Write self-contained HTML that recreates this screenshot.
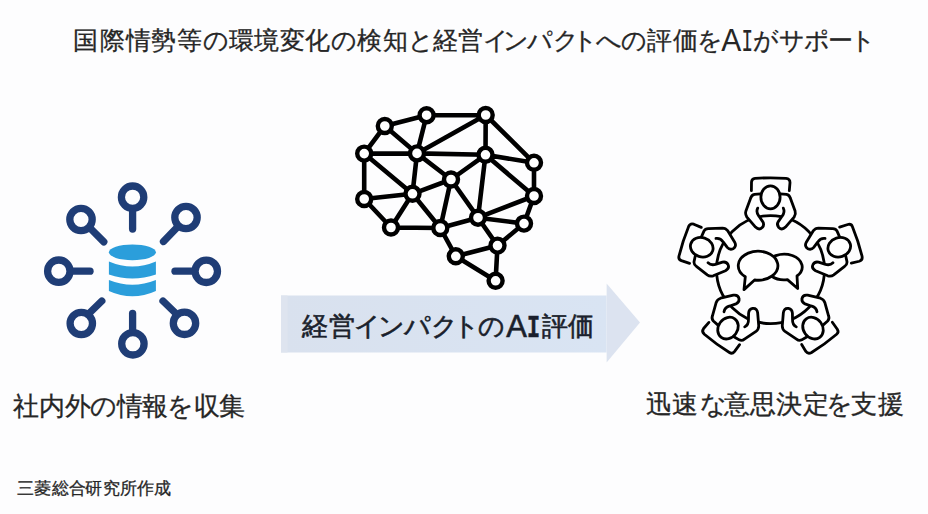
<!DOCTYPE html>
<html lang="ja">
<head>
<meta charset="utf-8">
<style>
html,body{margin:0;padding:0;}
body{width:928px;height:514px;overflow:hidden;background:#fdfdfe;position:relative;font-family:"Liberation Sans",sans-serif;color:#262626;}
.t{position:absolute;white-space:nowrap;line-height:1;}
#title{left:73px;top:29px;font-size:25px;letter-spacing:-0.2px;}
#cap1{left:13px;top:393px;font-size:26px;letter-spacing:-0.25px;}
#cap2{left:646px;top:392px;font-size:26px;letter-spacing:-0.2px;}
#credit{left:17px;top:480px;font-size:17px;letter-spacing:0.35px;}
#arrowtxt{left:301px;top:313px;font-size:26px;font-weight:normal;-webkit-text-stroke:0.6px #1a1f2c;color:#1a1f2c;}
svg{position:absolute;left:0;top:0;}
.g{position:absolute;left:0;top:0;width:928px;height:40px;line-height:1;white-space:nowrap;}
.g span{position:absolute;top:0;}
</style>
</head>
<body>
<svg width="928" height="514" viewBox="0 0 928 514">
  <!-- arrow -->
  <defs>
    <linearGradient id="ag" x1="0" x2="1" y1="0" y2="0">
      <stop offset="0" stop-color="#d9e1ee"/>
      <stop offset="1" stop-color="#d9e4f3"/>
    </linearGradient>
  </defs>
  <path d="M281 295.5 H606.6 V352.5 H281 Z" fill="url(#ag)"/>
  <path d="M281 295.5 H287.5 V352.5 H281 Z" fill="#dee4ef"/>
  <path d="M606.6 283.5 L640 322.5 L606.6 362.5 Z" fill="#dce3f0"/>
  <!-- left icon -->
  <g id="db" fill="none" stroke="#1f3d76" stroke-width="7.3" stroke-linecap="round">
    <circle cx="132.6" cy="197.2" r="11.2"/><path d="M132.6 212 V229"/>
    <circle cx="186" cy="217.5" r="11.2"/><path d="M177 227.5 L163.5 241.5"/>
    <circle cx="206.3" cy="271.3" r="11.2"/><path d="M193 271.2 H175"/>
    <circle cx="184.5" cy="323.3" r="11.2"/><path d="M175.4 313 L163 301"/>
    <circle cx="132.9" cy="343.8" r="11.2"/><path d="M132.6 330 V313.5"/>
    <circle cx="81.3" cy="323.5" r="11.2"/><path d="M89.5 313 L101.8 301"/>
    <circle cx="58.8" cy="271.2" r="11.2"/><path d="M71.5 271.2 H90"/>
    <circle cx="81" cy="219.5" r="11.2"/><path d="M91.5 229.5 L103.8 241.8"/>
  </g>
  <g fill="#2b9edb">
    <ellipse cx="132.4" cy="252.3" rx="23.5" ry="7.9"/>
    <path d="M108.9 261.6 Q132.4 271.6 155.9 261.6 V274.5 Q132.4 282.7 108.9 274.5 Z"/>
    <path d="M108.9 280 Q132.4 289.4 155.9 280 V290.9 Q132.4 301.7 108.9 290.9 Z"/>
  </g>
<g id="brain" stroke="#000" stroke-width="4.6" fill="none" stroke-linecap="round"><path d="M384.8 126.0L426.6 115.2M426.6 115.2L485.7 115.0M384.8 126.0L364.2 153.6M384.8 126.0L417.0 153.4M426.6 115.2L417.0 153.4M485.7 115.0L417.0 153.4M485.7 115.0L485.5 154.8M485.7 115.0L534.0 162.8M364.2 153.6L417.0 153.4M417.0 153.4L485.5 154.8M485.5 154.8L534.0 162.8M364.2 153.6L364.2 199.0M364.2 153.6L412.5 193.8M417.0 153.4L412.5 193.8M417.0 153.4L451.0 179.5M485.5 154.8L451.0 179.5M451.0 179.5L412.5 193.8M534.0 162.8L534.0 196.0M485.5 154.8L534.0 196.0M485.5 154.8L478.0 217.7M451.0 179.5L440.3 228.0M451.0 179.5L478.0 217.7M364.2 199.0L412.5 193.8M364.2 199.0L391.0 227.5M412.5 193.8L391.0 227.5M412.5 193.8L440.3 228.0M534.0 196.0L478.0 217.7M534.0 196.0L524.0 223.6M440.3 228.0L478.0 217.7M478.0 217.7L524.0 223.6M440.3 228.0L455.8 256.3M478.0 217.7L497.5 245.6M524.0 223.6L497.5 245.6M497.5 245.6L455.8 256.3M455.8 256.3L495.6 280.8M497.5 245.6L495.6 280.8M391.0 227.5L440.3 228.0"/></g>
<g fill="#fff" stroke="#000" stroke-width="4.4"><circle cx="384.8" cy="126.0" r="7"/><circle cx="426.6" cy="115.2" r="7"/><circle cx="485.7" cy="115.0" r="7"/><circle cx="364.2" cy="153.6" r="7"/><circle cx="417.0" cy="153.4" r="7"/><circle cx="485.5" cy="154.8" r="7"/><circle cx="534.0" cy="162.8" r="7"/><circle cx="451.0" cy="179.5" r="7"/><circle cx="364.2" cy="199.0" r="7"/><circle cx="412.5" cy="193.8" r="7"/><circle cx="534.0" cy="196.0" r="7"/><circle cx="391.0" cy="227.5" r="7"/><circle cx="440.3" cy="228.0" r="7"/><circle cx="478.0" cy="217.7" r="7"/><circle cx="524.0" cy="223.6" r="7"/><circle cx="497.5" cy="245.6" r="7"/><circle cx="455.8" cy="256.3" r="7"/><circle cx="495.6" cy="280.8" r="7"/></g>
<g transform="translate(770.5 269.6)">
  <defs>
    <g id="person">
      <path fill="#fff" d="M-16 -75.2Q-19 -74.6 -19.8 -71.5L-24.6 -58.5Q-25.6 -55.5 -23.6 -52.5L-15 -42.5Q-11.5 -39 -8.3 -42Q-5.8 -44.8 -7.8 -48L-11.5 -53.3Q-14.8 -57.5 -12.8 -61.5L-9.8 -75.8Z"/>
      <path fill="#fff" d="M16 -75.2Q19 -74.6 19.8 -71.5L24.6 -58.5Q25.6 -55.5 23.6 -52.5L15 -42.5Q11.5 -39 8.3 -42Q5.8 -44.8 7.8 -48L11.5 -53.3Q14.8 -57.5 12.8 -61.5L9.8 -75.8Z"/>
      <g fill="none" stroke="#000" stroke-width="2.8" stroke-linecap="round" stroke-linejoin="round">
        <ellipse cx="0" cy="-72.3" rx="9.6" ry="11.5" fill="#fff"/>
        <path d="M-19.1 -78.9L-19 -87.5Q-18.8 -91 -15.5 -91.2Q0 -92.4 15.5 -91.2Q19.5 -90.8 19.5 -87L18.8 -78.9"/>
        <path d="M-9.8 -75.8L-16 -75.2Q-19 -74.6 -19.8 -71.5L-24.6 -58.5Q-25.6 -55.5 -23.6 -52.5L-15 -42.5Q-11.5 -39 -8.3 -42Q-5.8 -44.8 -7.8 -48L-11.5 -53.3Q-14.8 -57.5 -12.8 -61.5"/>
        <path d="M9.8 -75.8L16 -75.2Q19 -74.6 19.8 -71.5L24.6 -58.5Q25.6 -55.5 23.6 -52.5L15 -42.5Q11.5 -39 8.3 -42Q5.8 -44.8 7.8 -48L11.5 -53.3Q14.8 -57.5 12.8 -61.5"/>
      </g>
    </g>
  </defs>
  <circle cx="0" cy="0" r="54" fill="none" stroke="#000" stroke-width="2.8"/>
  <use href="#person"/>
  <use href="#person" transform="rotate(72)"/>
  <use href="#person" transform="rotate(144)"/>
  <use href="#person" transform="rotate(216)"/>
  <use href="#person" transform="rotate(288)"/>
</g>
<g fill="#fff" stroke="#000" stroke-width="2.8" stroke-linejoin="round">
  <path d="M797 276L797.7 288.5L787.4 279.6A18 12.8 0 1 1 797 276Z"/>
  <path d="M754.6 280A19.8 14.5 0 1 0 745.3 276.8L744 289.6Z"/>
</g>

</svg>
<div class="g" style="top:28.0px;font-size:25px;color:#262626;-webkit-text-stroke:0.3px #262626;"><span style="left:73.4px;">国</span><span style="left:99.5px;">際</span><span style="left:125.6px;">情</span><span style="left:151.0px;">勢</span><span style="left:177.4px;">等</span><span style="left:202.5px;">の</span><span style="left:229.0px;">環</span><span style="left:254.0px;">境</span><span style="left:279.5px;">変</span><span style="left:304.8px;">化</span><span style="left:330.7px;">の</span><span style="left:357.4px;">検</span><span style="left:382.5px;">知</span><span style="left:407.7px;">と</span><span style="left:432.5px;">経</span><span style="left:458.4px;">営</span><span style="left:483.4px;">イ</span><span style="left:503.2px;">ン</span><span style="left:527.4px;">パ</span><span style="left:553.2px;">ク</span><span style="left:572.2px;">ト</span><span style="left:595.5px;">へ</span><span style="left:620.6px;">の</span><span style="left:647.0px;">評</span><span style="left:672.8px;">価</span><span style="left:697.4px;">を</span><span style="left:721.3px;font-size:31px;-webkit-text-stroke:0;top:-3.4px;transform:scaleX(0.97);transform-origin:10.5px 0;">A</span><span style="left:737.8px;font-size:31px;font-family:'Liberation Mono',monospace;-webkit-text-stroke:0.2px #262626;top:-1.4px;transform:scaleX(0.62);transform-origin:9.5px 0;">I</span><span style="left:753.1px;">が</span><span style="left:778.8px;">サ</span><span style="left:804.0px;">ポ</span><span style="left:827.9px;">ー</span><span style="left:849.5px;">ト</span></div>
<div class="g" style="top:312.5px;font-size:26px;-webkit-text-stroke:0.6px #1a1f2c;color:#1a1f2c;"><span style="left:302.0px;">経</span><span style="left:328.9px;">営</span><span style="left:354.4px;">イ</span><span style="left:378.0px;">ン</span><span style="left:404.4px;">パ</span><span style="left:430.8px;">ク</span><span style="left:453.0px;">ト</span><span style="left:478.0px;">の</span><span style="left:505.5px;font-size:31.5px;top:-1.8px;transform:scaleX(0.98);transform-origin:10.5px 0;">A</span><span style="left:523.7px;font-size:32px;font-family:'Liberation Mono',monospace;font-weight:bold;top:0.2px;transform:scaleX(0.68);transform-origin:9.5px 0;">I</span><span style="left:542.0px;">評</span><span style="left:568.2px;">価</span></div>
<div class="g" style="top:392.5px;font-size:26px;color:#262626;-webkit-text-stroke:0.3px #262626;"><span style="left:13.4px;">社</span><span style="left:39.3px;">内</span><span style="left:64.6px;">外</span><span style="left:90.1px;">の</span><span style="left:117.0px;">情</span><span style="left:141.8px;">報</span><span style="left:167.0px;">を</span><span style="left:193.8px;">収</span><span style="left:219.2px;">集</span></div>
<div class="g" style="top:391.2px;font-size:26px;color:#262626;-webkit-text-stroke:0.3px #262626;"><span style="left:646.2px;">迅</span><span style="left:672.3px;">速</span><span style="left:699.5px;">な</span><span style="left:724.1px;">意</span><span style="left:750.1px;">思</span><span style="left:775.6px;">決</span><span style="left:802.9px;">定</span><span style="left:825.5px;">を</span><span style="left:850.9px;">支</span><span style="left:877.9px;">援</span></div>
<div class="g" style="top:480.0px;font-size:17px;color:#262626;-webkit-text-stroke:0.3px #262626;"><span style="left:17.1px;">三</span><span style="left:34.3px;">菱</span><span style="left:51.6px;">総</span><span style="left:69.0px;">合</span><span style="left:84.5px;">研</span><span style="left:103.3px;">究</span><span style="left:120.0px;">所</span><span style="left:136.7px;">作</span><span style="left:154.3px;">成</span></div>
</body>
</html>
